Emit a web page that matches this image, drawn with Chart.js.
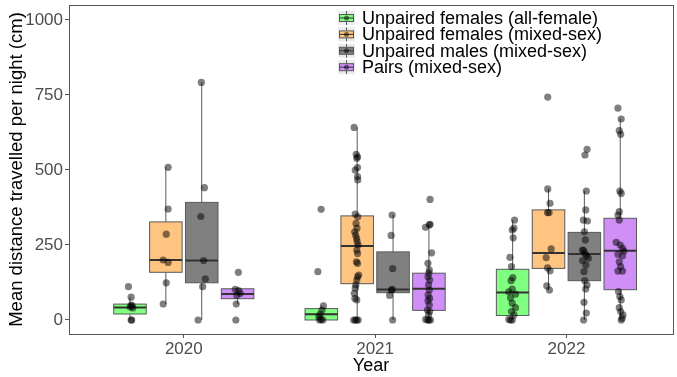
<!DOCTYPE html>
<html>
<head>
<meta charset="utf-8">
<script src="https://cdn.jsdelivr.net/npm/chart.js@4.4.1/dist/chart.umd.min.js"></script>
<style>
  html, body { margin: 0; padding: 0; background: #fff; }
</style>
</head>
<body>
<canvas id="chart" width="677" height="377"></canvas>
<script>
// year categories and group names
const years = ['2020', '2021', '2022'];
const groupNames = [
  'Unpaired females (all-female)',
  'Unpaired females (mixed-sex)',
  'Unpaired males (mixed-sex)',
  'Pairs (mixed-sex)'
];
const fillColors = ['#80ff80', '#ffc580', '#808080', '#cf8ff7'];

// box stats per year: [lower whisker, q1, median, q3, upper whisker]
const boxGreen  = [[0, 20, 42, 53, 76],   [0, 0, 19, 38, 47],     [0, 15, 92, 169, 333]];
const boxOrange = [[53, 159, 200, 327, 509], [0, 121, 247, 347, 642], [100, 172, 223, 367, 437]];
const boxGrey   = [[0, 124, 198, 392, 792], [0, 91, 102, 227, 350],  [0, 131, 220, 292, 430]];
const boxPurple = [[53, 71, 87, 104, 104],  [0, 32, 104, 156, 319],  [0, 101, 231, 339, 672]];

// individual observations per year: [jitter, value]
const ptsGreen = [
  [[-0.008, 111], [0.006, 76], [0.006, 50], [0.011, 47], [0.001, 43], [0.015, 40], [0.006, 0], [0.009, 0]],
  [[-0.001, 369], [-0.018, 161], [0.011, 47], [0.004, 33], [-0.006, 20], [-0.013, 11], [-0.001, 2], [-0.009, 0], [0.008, 0]],
  [[0.010, 333], [0.007, 306], [-0.002, 300], [0.003, 274], [-0.014, 209], [-0.006, 178], [0.001, 141], [-0.008, 131],
   [-0.002, 103], [-0.020, 94], [0.015, 86], [-0.011, 74], [-0.002, 56], [0.015, 41], [-0.006, 28], [0.007, 17],
   [-0.020, 2], [-0.002, 0], [-0.011, 0]]
];
const ptsOrange = [
  [[0.012, 509], [0.012, 370], [0.002, 286], [-0.014, 200], [0.012, 192], [0.002, 124], [-0.014, 53]],
  [[-0.016, 642], [-0.005, 552], [0.002, 544], [-0.002, 539], [0.002, 508], [-0.010, 500], [0.002, 478], [0.003, 467],
   [-0.010, 353], [0.003, 344], [-0.006, 322], [-0.001, 306], [-0.013, 294], [-0.008, 283], [-0.003, 272], [0.000, 261],
   [0.005, 250], [-0.002, 233], [0.002, 222], [-0.004, 194], [0.002, 189], [0.008, 150], [0.002, 144], [-0.002, 133],
   [-0.007, 117], [-0.010, 106], [-0.015, 89], [-0.012, 72], [-0.002, 67], [-0.018, 0], [-0.010, 0], [-0.002, 0], [0.005, 0]],
  [[-0.004, 743], [-0.004, 437], [0.008, 389], [-0.005, 358], [0.003, 358], [0.014, 237], [-0.012, 208], [-0.005, 174],
   [0.008, 164], [-0.009, 114], [0.005, 100]]
];
const ptsGrey = [
  [[-0.002, 792], [0.014, 441], [-0.005, 345], [0.010, 198], [0.019, 137], [0.005, 111], [-0.019, 0]],
  [[-0.005, 350], [-0.010, 282], [-0.002, 171], [-0.004, 102], [-0.009, 100], [-0.018, 82], [-0.002, 0]],
  [[0.014, 569], [0.003, 550], [0.010, 430], [0.007, 367], [-0.005, 333], [0.016, 330], [0.000, 294], [0.005, 267],
   [-0.010, 233], [-0.004, 231], [0.003, 222], [0.012, 214], [0.021, 206], [-0.009, 198], [0.008, 183], [-0.002, 161],
   [0.002, 131], [0.014, 117], [0.007, 103], [-0.002, 59], [0.010, 23], [-0.004, 0]]
];
const ptsPurple = [
  [[0.004, 159], [-0.012, 102], [0.005, 98], [0.014, 89], [-0.004, 82], [-0.007, 53], [-0.009, 0]],
  [[0.006, 402], [0.006, 319], [-0.018, 309], [0.002, 317], [0.014, 224], [-0.005, 189], [0.002, 167], [0.000, 156],
   [-0.005, 144], [0.004, 133], [-0.002, 117], [0.002, 100], [-0.004, 83], [0.004, 72], [-0.005, 64], [0.002, 50],
   [-0.008, 33], [0.004, 28], [-0.002, 17], [-0.017, 2], [-0.006, 0], [0.008, 0], [0.000, 0]],
  [[-0.012, 706], [0.005, 670], [-0.005, 631], [0.002, 619], [-0.002, 430], [0.005, 422], [-0.005, 361], [-0.012, 350],
   [-0.005, 333], [-0.021, 259], [0.000, 250], [0.012, 239], [0.019, 230], [-0.012, 219], [0.012, 214], [-0.005, 194],
   [0.002, 178], [-0.012, 163], [0.012, 163], [-0.009, 95], [-0.002, 78], [0.005, 67], [-0.005, 41], [0.002, 28],
   [0.014, 17], [0.005, 0], [0.010, 6]]
];

const boxes = [boxGreen, boxOrange, boxGrey, boxPurple];
const points = [ptsGreen, ptsOrange, ptsGrey, ptsPurple];
const dodge = [-0.28125, -0.09375, 0.09375, 0.28125];
const boxHalf = 0.085;
const FONT = '"Liberation Sans", Arial, sans-serif';

const datasets = points.map((grp, g) => ({
  label: groupNames[g],
  data: grp.flatMap((list, i) => list.map(p => ({ x: i + 1 + dodge[g] + p[0], y: p[1] }))),
  pointRadius: 3.6,
  pointBorderWidth: 0,
  pointBackgroundColor: 'rgba(0,0,0,0.5)',
  pointBorderColor: 'rgba(0,0,0,0)'
}));

// boxes, whiskers and the panel frame, drawn from the scales
const boxPlugin = {
  id: 'boxes',
  beforeDatasetsDraw(chart) {
    const { ctx, chartArea: a, scales: { x, y } } = chart;
    ctx.save();
    ctx.beginPath();
    ctx.rect(a.left, a.top, a.right - a.left, a.bottom - a.top);
    ctx.clip();
    boxes.forEach((grp, g) => {
      grp.forEach((s, i) => {
        const cx = x.getPixelForValue(i + 1 + dodge[g]);
        const l = x.getPixelForValue(i + 1 + dodge[g] - boxHalf);
        const r = x.getPixelForValue(i + 1 + dodge[g] + boxHalf);
        const [lo, q1, md, q3, hi] = s.map(v => y.getPixelForValue(v));
        ctx.strokeStyle = '#595959';
        ctx.lineWidth = 1;
        ctx.beginPath();
        ctx.moveTo(cx, lo); ctx.lineTo(cx, q1);
        ctx.moveTo(cx, q3); ctx.lineTo(cx, hi);
        ctx.stroke();
        ctx.fillStyle = fillColors[g];
        ctx.fillRect(l, q3, r - l, q1 - q3);
        ctx.strokeRect(l, q3, r - l, q1 - q3);
        ctx.strokeStyle = '#333';
        ctx.lineWidth = 2;
        ctx.beginPath();
        ctx.moveTo(l, md); ctx.lineTo(r, md);
        ctx.stroke();
      });
    });
    ctx.restore();
  },
  afterDraw(chart) {
    const { ctx, chartArea: a } = chart;
    ctx.save();
    ctx.strokeStyle = '#555';
    ctx.lineWidth = 1;
    ctx.strokeRect(a.left + 0.5, a.top + 0.5, a.right - a.left, a.bottom - a.top);
    // legend
    ctx.font = '18px ' + FONT;
    ctx.textBaseline = 'middle';
    groupNames.forEach((name, g) => {
      const ky = 18 + g * 16.4;
      const kx = 338;
      ctx.fillStyle = '#ebebeb';
      ctx.fillRect(kx, ky - 7, 17, 14);
      ctx.strokeStyle = '#595959';
      ctx.beginPath();
      ctx.moveTo(kx + 8.5, ky - 7); ctx.lineTo(kx + 8.5, ky + 7);
      ctx.stroke();
      ctx.fillStyle = fillColors[g];
      ctx.fillRect(kx + 1.5, ky - 3.5, 14, 7);
      ctx.strokeRect(kx + 1.5, ky - 3.5, 14, 7);
      ctx.strokeStyle = '#333';
      ctx.beginPath();
      ctx.moveTo(kx + 1.5, ky); ctx.lineTo(kx + 15.5, ky);
      ctx.stroke();
      ctx.fillStyle = 'rgba(0,0,0,0.5)';
      ctx.beginPath();
      ctx.arc(kx + 8.5, ky, 2.5, 0, Math.PI * 2);
      ctx.fill();
      ctx.fillStyle = '#000';
      ctx.fillText(name, 362, ky + 1);
    });
    ctx.restore();
  }
};

new Chart(document.getElementById('chart').getContext('2d'), {
  type: 'scatter',
  data: { datasets },
  plugins: [boxPlugin],
  options: {
    responsive: false,
    animation: false,
    devicePixelRatio: 1,
    layout: { padding: { top: 5, right: 0, bottom: 0, left: 0 } },
    plugins: { legend: { display: false }, tooltip: { enabled: false } },
    scales: {
      x: {
        type: 'linear',
        min: 0.4,
        max: 3.557,
        afterBuildTicks: s => { s.ticks = [1, 2, 3].map(v => ({ value: v })); },
        afterFit: s => { s.height = 43; s.paddingLeft = 0; s.paddingRight = 0; },
        ticks: {
          callback: v => years[v - 1],
          color: '#4d4d4d',
          font: { size: 17, family: FONT },
          padding: 1,
          maxRotation: 0,
          autoSkip: false
        },
        grid: { drawOnChartArea: false, drawTicks: true, tickLength: 4, color: '#555' },
        border: { display: false },
        title: { display: true, text: 'Year', color: '#000', font: { size: 18, family: FONT }, padding: { top: 0, bottom: 0 } }
      },
      y: {
        min: -46.7,
        max: 1050,
        afterBuildTicks: s => { s.ticks = [0, 250, 500, 750, 1000].map(v => ({ value: v })); },
        afterFit: s => { s.width = 69; s.paddingTop = 0; s.paddingBottom = 0; },
        ticks: {
          callback: v => String(v),
          color: '#4d4d4d',
          font: { size: 17, family: FONT },
          padding: 2
        },
        grid: { drawOnChartArea: false, drawTicks: true, tickLength: 4, color: '#555' },
        border: { display: false },
        title: {
          display: true,
          text: 'Mean distance travelled per night (cm)',
          color: '#000',
          font: { size: 18.5, family: FONT },
          padding: { top: 6, bottom: 0 }
        }
      }
    }
  }
});
</script>
</body>
</html>
